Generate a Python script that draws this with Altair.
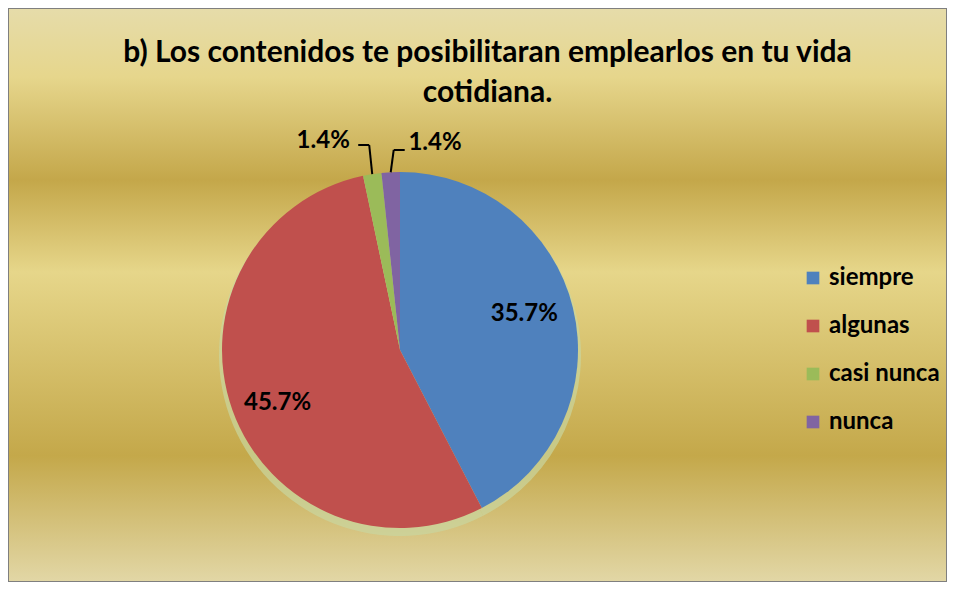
import altair as alt
import pandas as pd

categories = ["siempre", "algunas", "casi nunca", "nunca"]
values = [35.7, 45.7, 1.4, 1.4]
labels = ["35.7%", "45.7%", "1.4%", "1.4%"]
colors = ["#4f81bd", "#c0504d", "#9bbb59", "#8064a2"]
title_lines = ["b) Los contenidos te posibilitaran emplearlos en tu vida", "cotidiana."]

df = pd.DataFrame({
    "category": categories,
    "value": values,
    "label": labels,
    "idx": list(range(len(categories))),
})

CX, CY, R = 392, 342, 178
FONT = "Lato"
LBL = 24

base = alt.Chart(df)

gradient = alt.LinearGradient(
    gradient="linear", x1=0, x2=0, y1=0, y2=1,
    stops=[
        alt.GradientStop(offset=0.0, color="#e6dcaa"),
        alt.GradientStop(offset=0.12, color="#e6d68c"),
        alt.GradientStop(offset=0.30, color="#c4a74a"),
        alt.GradientStop(offset=0.46, color="#e6d68a"),
        alt.GradientStop(offset=0.78, color="#c4a84a"),
        alt.GradientStop(offset=1.0, color="#e2d7a6"),
    ],
)

bg = alt.Chart(pd.DataFrame({"bg": [0]})).mark_rect(
    color=gradient, stroke="#7f7f7f", strokeWidth=2
).encode(
    x=alt.value(0), x2=alt.value("width"), y=alt.value(0), y2=alt.value("height"),
)

theta = alt.Theta("value:Q", stack=True)
order = alt.Order("idx:Q")

glow = base.mark_arc(opacity=0.7).encode(
    theta=theta, order=order,
    color=alt.value("#c9d59f"),
    radius=alt.value(R + 3),
    x=alt.value(CX), y=alt.value(CY + 5),
)

pie = base.mark_arc(stroke=None).encode(
    theta=theta, order=order,
    color=alt.Color("category:N", scale=alt.Scale(domain=categories, range=colors),
                    sort=categories,
                    legend=alt.Legend(title=None, orient="none", legendX=793, legendY=258,
                                      symbolType="square", symbolSize=160, symbolStrokeWidth=0,
                                      labelFont=FONT, labelFontSize=LBL, labelFontWeight="bold",
                                      labelColor="black", rowPadding=24, labelOffset=4)),
    radius=alt.value(R),
    x=alt.value(CX), y=alt.value(CY),
)


def label_layer(cat, radius, dx, dy):
    return base.transform_calculate(
        t=f"datum.category == '{cat}' ? datum.label : ''"
    ).mark_text(font=FONT, fontSize=LBL, fontWeight="bold", color="black", dx=dx, dy=dy).encode(
        theta=theta, order=order, text="t:N",
        radius=alt.value(radius), x=alt.value(CX), y=alt.value(CY),
    )


lab_s = label_layer("siempre", 130, -2, -5)
lab_a = label_layer("algunas", 130, 0, 9)
lab_g = label_layer("casi nunca", 210, -44, -2)
lab_p = label_layer("nunca", 210, 46, 3)

leader_base = base.transform_joinaggregate(
    total="sum(value)"
).transform_window(
    cum="sum(value)", sort=[alt.SortField("idx")]
).transform_calculate(
    a="(datum.cum - datum.value/2) / datum.total * 2 * PI",
    side="datum.category == 'nunca' ? 1 : -1",
).transform_calculate(
    ex=f"{CX} + {R} * sin(datum.a)",
    ey=f"{CY} - {R} * cos(datum.a)",
).transform_calculate(
    elx="datum.ex + datum.side * 3",
    ely=f"datum.side > 0 ? {CY} - 200 : {CY} - 205",
).transform_calculate(
    endx="datum.elx + datum.side * 11",
).transform_filter("datum.value < 5")

lead1 = leader_base.mark_rule(color="black", strokeWidth=2).encode(
    x=alt.X("ex:Q", scale=None), y=alt.Y("ey:Q", scale=None),
    x2="elx:Q", y2="ely:Q",
)
lead2 = leader_base.mark_rule(color="black", strokeWidth=2).encode(
    x=alt.X("elx:Q", scale=None), y=alt.Y("ely:Q", scale=None),
    x2="endx:Q", y2="ely:Q",
)

chart = alt.layer(bg, glow, pie, lab_s, lab_a, lab_g, lab_p, lead1, lead2).properties(
    width=939, height=574,
    autosize=alt.AutoSizeParams(type="none"),
    padding=0,
    title=alt.Title(text=title_lines, font=FONT, fontSize=30, fontWeight="bold", color="black",
                    lineHeight=40, anchor="middle", offset=-101, dx=10),
).configure(background="white").configure_view(stroke=None)

chart.save("out.html", embed_options={"renderer": "svg", "actions": False})
